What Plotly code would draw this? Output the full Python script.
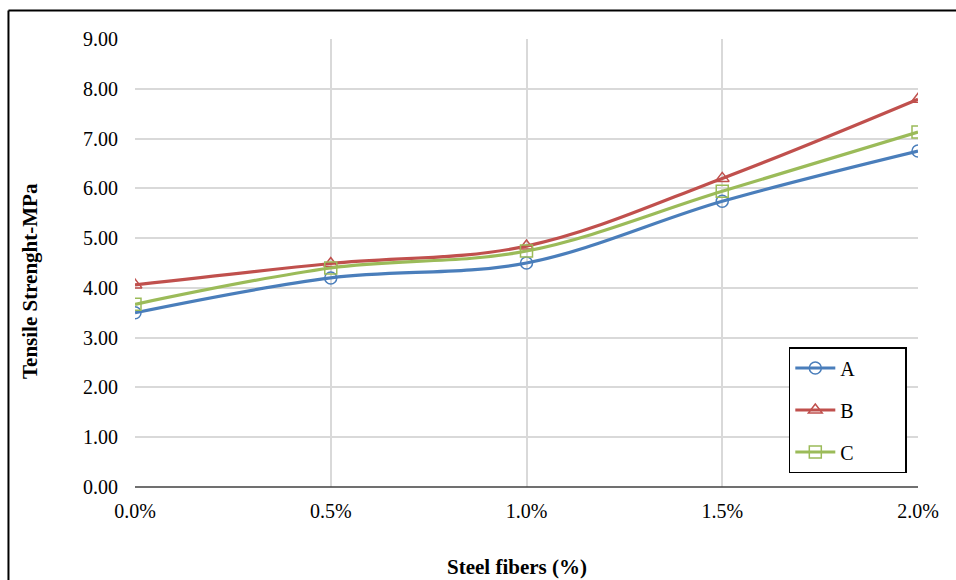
import plotly.graph_objects as go

x_vals = [0.0, 0.005, 0.010, 0.015, 0.020]
series_a = [3.50, 4.20, 4.50, 5.74, 6.75]
series_b = [4.06, 4.49, 4.84, 6.20, 7.79]
series_c = [3.67, 4.40, 4.74, 5.94, 7.13]
names = ["A", "B", "C"]
colors = ["#4a7ebb", "#c0504d", "#9bbb59"]
symbols = ["circle-open", "triangle-up-open", "square-open"]

FONT = "Liberation Serif"
TICKFONT = dict(family=FONT, size=20, color="black")

fig = go.Figure()
for name, ys, col, sym in zip(names, [series_a, series_b, series_c], colors, symbols):
    fig.add_trace(go.Scatter(
        x=x_vals, y=ys, name=name + "\u00a0" * 9, legendgroup=name,
        mode="lines+markers",
        line=dict(color=col, width=3.2, shape="spline", smoothing=1.0),
        marker=dict(symbol=sym, size=12, color=col, line=dict(color=col, width=1.5)),
    ))

fig.update_layout(
    width=956, height=580,
    margin=dict(l=135, r=38, t=39, b=93),
    paper_bgcolor="white", plot_bgcolor="white",
    font=dict(family=FONT, size=20, color="black"),
    showlegend=True,
    legend=dict(
        x=0.835, y=0.3125, xanchor="left", yanchor="top",
        bordercolor="black", borderwidth=1.5, bgcolor="white",
        font=dict(family=FONT, size=20, color="black"),
        tracegroupgap=13, itemwidth=40,
    ),
    xaxis=dict(
        range=[0, 0.02], tickvals=x_vals, tickformat=".1%",
        showgrid=True, gridcolor="#d9d9d9", gridwidth=1.5,
        zeroline=False, showline=False, ticks="",
        ticklabelstandoff=10, tickfont=TICKFONT,
    ),
    yaxis=dict(
        range=[0, 9], dtick=1, tickformat=".2f",
        showgrid=True, gridcolor="#d9d9d9", gridwidth=1.5,
        zeroline=False, showline=False, ticks="",
        ticklabelstandoff=16, tickfont=TICKFONT,
    ),
    shapes=[
        dict(type="line", xref="paper", yref="paper", x0=0, x1=1, y0=0, y1=0,
             line=dict(color="#404040", width=1.5)),
        dict(type="line", xref="paper", yref="paper", x0=-0.1616, x1=1.1, y0=1.0636, y1=1.0636,
             line=dict(color="black", width=2)),
        dict(type="line", xref="paper", yref="paper", x0=-0.1616, x1=-0.1616, y0=1.0636, y1=-0.3,
             line=dict(color="black", width=2)),
    ],
    annotations=[
        dict(text="<b>Steel fibers (%)</b>", xref="paper", yref="paper",
             x=(517 - 135) / 783, y=(487 - 567) / 448, showarrow=False,
             xanchor="center", yanchor="middle", font=dict(family=FONT, size=21)),
        dict(text="<b>Tensile Strenght-MPa</b>", xref="paper", yref="paper",
             x=(30 - 135) / 783, y=(487 - 281) / 448, showarrow=False, textangle=-90,
             xanchor="center", yanchor="middle", font=dict(family=FONT, size=21)),
    ],
)

fig.write_html("out.html")
